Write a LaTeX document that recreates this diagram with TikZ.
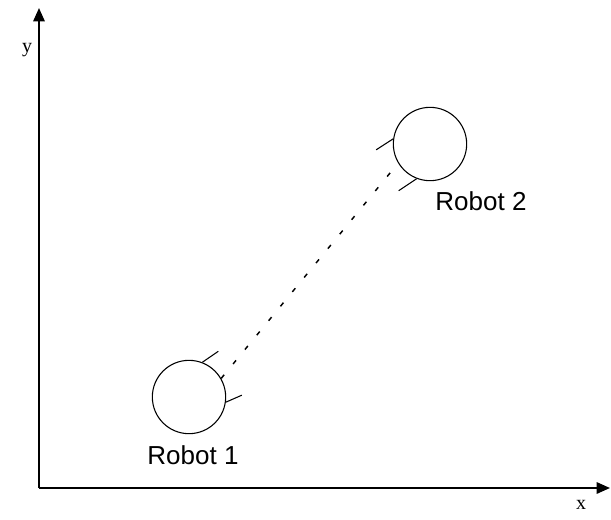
\documentclass[tikz,border=0pt]{standalone}
\usepackage{fontspec}
\setmainfont{Liberation Serif}
\newfontfamily\robotfont{Liberation Sans}
\usetikzlibrary{arrows.meta}

\begin{document}
\begin{tikzpicture}[x=0.75pt, y=-0.75pt, line join=round,
    axis/.style={line width=1.5pt, -{Triangle[length=10pt, width=8.5pt]}},
    robot/.style={draw, circle, line width=0.8pt, minimum size=55pt, inner sep=0pt},
    whisker/.style={line width=0.8pt},
    sight/.style={line width=1.1pt, dash pattern=on 3.5pt off 10.5pt},
    rlabel/.style={font=\robotfont\fontsize{19.5}{22}\selectfont, inner sep=0pt},
    axlabel/.style={font=\fontsize{15}{18}\selectfont, inner sep=0pt}]
        \useasboundingbox (0,0) rectangle (611,519);
        % axes
        \coordinate (o) at (39,488);
        \coordinate (ytip) at (39,8);
        \coordinate (xtip) at (610,488);
        \draw[axis] (o) -- (ytip);
        \draw[axis] (o) -- (xtip);
        \node[axlabel] (ly) at (27,50) {y};
        \node[axlabel] (lx) at (581,505) {x};
        % robots
        \node[robot] (r1) at (189,397) {};
        \node[robot] (r2) at (430,144) {};
        \draw[whisker] (r1.69) -- ++(16,-11);
        \draw[whisker] (r1.-8) -- ++(16,-7);
        \draw[whisker] (r2.172) -- ++(-17,11);
        \draw[whisker] (r2.249) -- ++(-18,12);
        \draw[sight] (r1.30) -- (r2.211);
        \node[rlabel] (l1) at (193,455) {Robot 1};
        \node[rlabel] (l2) at (481,201) {Robot 2};
    \end{tikzpicture}
\end{document}
